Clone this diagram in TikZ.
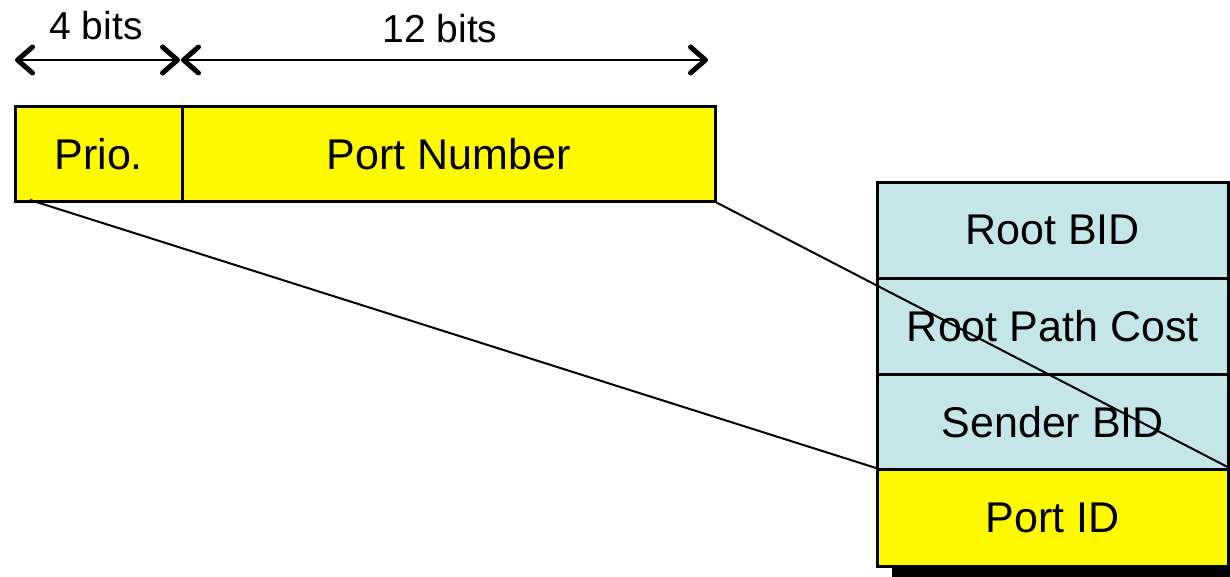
\documentclass[tikz,border=0pt]{standalone}
\usepackage{fontspec}
\setmainfont{Liberation Sans}
\usetikzlibrary{arrows.meta}
\definecolor{fyellow}{RGB}{255,250,0}
\definecolor{fblue}{RGB}{196,230,232}
\tikzset{
  field/.style={draw=black, line width=2.5pt, fill=fyellow, anchor=north west, inner sep=0pt,
    font=\fontsize{43}{48}\selectfont},
  bfield/.style={field, fill=fblue},
  dimline/.style={line width=2pt, {Straight Barb[length=15pt,width=26pt,line width=5pt,round]}-{Straight Barb[length=15pt,width=26pt,line width=5pt,round]}},
  dimlabel/.style={font=\fontsize{39}{44}\selectfont, inner sep=0pt},
  zoomline/.style={line width=2pt}
}
\begin{document}
\begin{tikzpicture}[x=1pt,y=-1pt]
\useasboundingbox (0,0) rectangle (1230,576);
% dimension arrows
\coordinate (a1) at (15,60);
\coordinate (a2) at (180,60);
\coordinate (a3) at (181,60);
\coordinate (a4) at (708,60);
\draw[dimline] (a1) -- (a2);
\draw[dimline] (a3) -- (a4);
\node[dimlabel] (l4) at (96,26) {4 bits};
\node[dimlabel] (l12) at (440,29) {12 bits};
% top fields
\node[field, minimum width=167pt, minimum height=95pt] (prio) at (14,105) {Prio.};
\node[field, minimum width=533pt, minimum height=95pt] (portnum) at (181,105) {Port Number};
% stack shadow
\fill[black] (892,193) rectangle (1245,590);
% stack
\node[bfield, minimum width=351pt, minimum height=96pt] (rootbid) at (876,181) {Root BID};
\node[bfield, minimum width=351pt, minimum height=96pt] (rpc) at (876,277) {Root Path Cost};
\node[bfield, minimum width=351pt, minimum height=95pt] (sbid) at (876,373) {Sender BID};
\node[field, minimum width=351pt, minimum height=97pt] (portid) at (876,468) {Port ID};
% zoom lines
\coordinate (p1) at (30,200);
\draw[zoomline] (p1) -- (portid.north west);
\draw[zoomline] (portnum.south east) -- (portid.north east);
\end{tikzpicture}
\end{document}
